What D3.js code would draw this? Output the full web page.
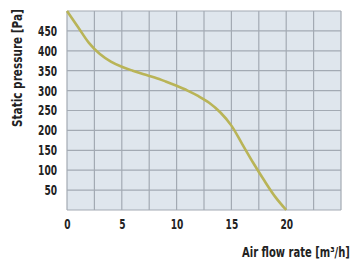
<!DOCTYPE html>
<html>
<head>
<meta charset="utf-8">
<script src="https://cdn.jsdelivr.net/npm/d3@7"></script>
<style>
  body { margin: 0; background: #fff; }
  text { font-family: "DejaVu Sans Condensed", sans-serif; font-weight: bold; fill: #222; }
</style>
</head>
<body>
<svg width="363" height="262"></svg>
<script>
// air flow (m3/h) vs static pressure (Pa)
var flow     = [0, 1, 2, 3, 4, 5, 6, 7, 8, 9, 10, 11, 12, 13, 14, 15, 16, 17, 18, 19, 20];
var pressure = [500, 460, 420, 392, 373, 360, 350, 341, 333, 323, 312, 300, 286, 269, 245, 212, 165, 118, 74, 33, 0];
var xTicks = [0, 5, 10, 15, 20];
var yTicks = [50, 100, 150, 200, 250, 300, 350, 400, 450];

var margin = {left: 67, right: 22, top: 11, bottom: 52};
var width = 363, height = 262;
var squeeze = 0.72;

var x = d3.scaleLinear().domain([0, 25]).range([margin.left, width - margin.right]);
var y = d3.scaleLinear().domain([0, 500]).range([height - margin.bottom, margin.top]);

var svg = d3.select("svg");

svg.append("rect")
  .attr("x", x(0)).attr("y", y(500))
  .attr("width", x(25) - x(0)).attr("height", y(0) - y(500))
  .attr("fill", "#dfe6ed");

// grid
svg.append("g")
  .attr("stroke", "#a3aab3").attr("stroke-width", 1.2)
  .selectAll("line")
  .data(d3.range(0, 25.1, 2.5))
  .enter().append("line")
  .attr("x1", d => x(d)).attr("x2", d => x(d))
  .attr("y1", y(0)).attr("y2", y(500));

svg.append("g")
  .attr("stroke", "#a3aab3").attr("stroke-width", 1.2)
  .selectAll("line")
  .data(d3.range(0, 501, 50))
  .enter().append("line")
  .attr("y1", d => y(d)).attr("y2", d => y(d))
  .attr("x1", x(0)).attr("x2", x(25));

// axes, labels only
var xAxis = svg.append("g")
  .attr("transform", `translate(0,${y(0)})`)
  .call(d3.axisBottom(x).tickValues(xTicks).tickSize(0).tickPadding(9));
xAxis.select(".domain").remove();

var yAxis = svg.append("g")
  .attr("transform", `translate(${x(0)},0)`)
  .call(d3.axisLeft(y).tickValues(yTicks).tickSize(0).tickPadding(10));
yAxis.select(".domain").remove();

svg.selectAll(".tick text")
  .attr("fill", "#222")
  .style("font-size", "14px")
  .style("font-family", "DejaVu Sans Condensed, sans-serif")
  .style("font-weight", "bold");

// squeeze tick labels sideways to look like the narrow font of the original
xAxis.selectAll(".tick text").attr("transform", `scale(${squeeze},1)`);
yAxis.selectAll(".tick text")
  .attr("x", -10 / squeeze)
  .attr("transform", `scale(${squeeze},1)`);

// curve
var line = d3.line()
  .x((d, i) => x(flow[i]))
  .y(d => y(d))
  .curve(d3.curveCatmullRom);

svg.append("path")
  .datum(pressure)
  .attr("fill", "none")
  .attr("stroke", "#b9b457")
  .attr("stroke-width", 2.6)
  .attr("d", line);

// titles, scaled to the width they take in the original
function title(text, tx, ty, rot, len) {
  var t = svg.append("text").attr("font-size", "14px").text(text);
  var k = len / t.node().getComputedTextLength();
  t.attr("transform", `translate(${tx},${ty}) rotate(${rot}) scale(${k},1)`);
}
title("Air flow rate [m³/h]", 242, 257, 0, 108);
title("Static pressure [Pa]", 22, 127, -90, 118);
</script>
</body>
</html>
